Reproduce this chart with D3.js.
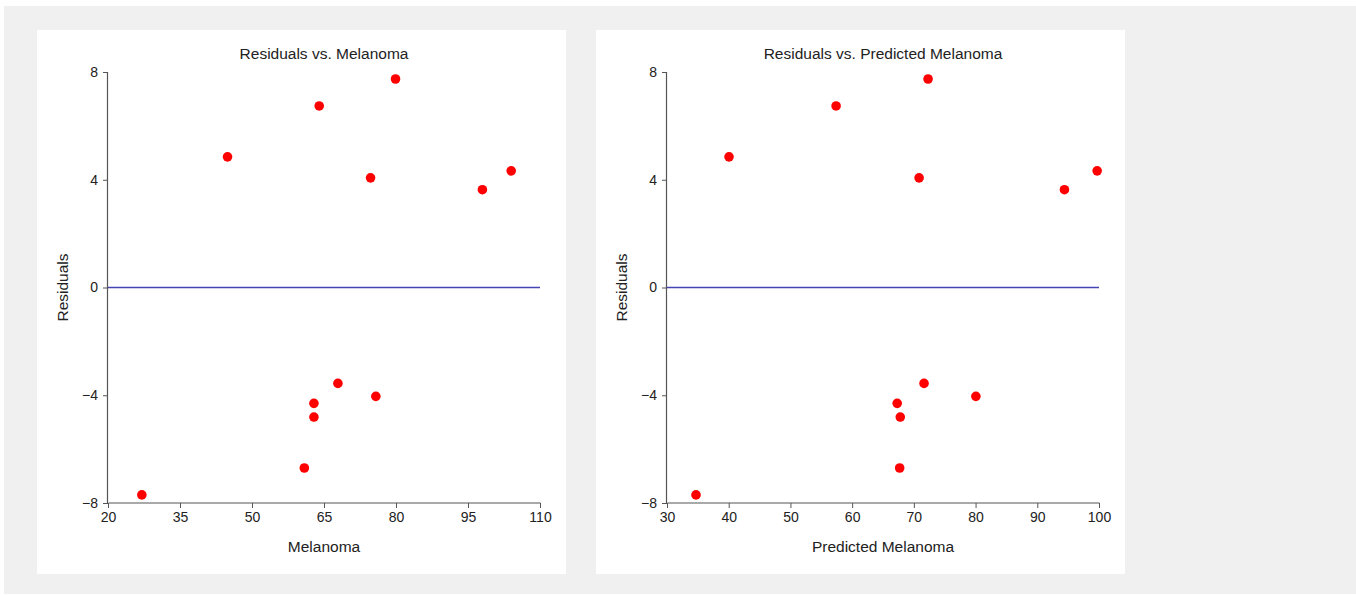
<!DOCTYPE html>
<html>
<head>
<meta charset="utf-8">
<script src="https://cdn.jsdelivr.net/npm/d3@7"></script>
<style>
  html, body { margin: 0; padding: 0; background: #fff; }
  svg { display: block; }
  text { font-family: Arial, "Liberation Sans", sans-serif; fill: #222; }
</style>
</head>
<body>
<svg id="chart" width="1356" height="595"></svg>
<script>
// residuals, one per case
const residuals = [-7.70, 4.85, 6.74, 7.74, 4.07, 3.63, 4.33, -3.56, -4.04, -4.30, -4.81, -6.70];
// actual melanoma values
const melanoma = [27.05, 44.9, 64.0, 79.9, 74.7, 98.0, 104.0, 67.9, 75.8, 62.9, 62.9, 60.9];
// predicted melanoma values
const predicted = [34.7, 40.05, 57.4, 72.3, 70.85, 94.4, 99.7, 71.65, 80.05, 67.3, 67.8, 67.7];

const yTicks = [-8, -4, 0, 4, 8];
const xTicksLeft = [20, 35, 50, 65, 80, 95, 110];
const xTicksRight = [30, 40, 50, 60, 70, 80, 90, 100];

const panels = [
  { title: "Residuals vs. Melanoma", xLabel: "Melanoma", xs: melanoma,
    xDomain: [20, 110], xTicks: xTicksLeft, left: 37 },
  { title: "Residuals vs. Predicted Melanoma", xLabel: "Predicted Melanoma", xs: predicted,
    xDomain: [30, 100], xTicks: xTicksRight, left: 596 }
];

const svg = d3.select("#chart");

// page background
svg.append("rect")
  .attr("x", 4).attr("y", 6)
  .attr("width", 1352).attr("height", 588)
  .attr("fill", "#f0f0f0");

panels.forEach(p => {
  var margin = { top: 42, right: 26, bottom: 71, left: 71 },
    panelW = 529, panelH = 544,
    width = panelW - margin.left - margin.right,
    height = panelH - margin.top - margin.bottom;

  svg.append("rect")
    .attr("x", p.left).attr("y", 30)
    .attr("width", panelW).attr("height", panelH)
    .attr("fill", "#fff");

  const g = svg.append("g")
    .attr("transform", "translate(" + (p.left + margin.left) + "," + (30 + margin.top) + ")");

  const x = d3.scaleLinear().domain(p.xDomain).range([0, width]);
  const y = d3.scaleLinear().domain([-8, 8]).range([height, 0]);

  const yAxis = g.append("g")
    .call(d3.axisLeft(y).tickValues(yTicks).tickSize(5).tickPadding(5).tickFormat(d3.format("d")));
  const xAxis = g.append("g")
    .attr("transform", "translate(0," + height + ")")
    .call(d3.axisBottom(x).tickValues(p.xTicks).tickSize(5).tickPadding(4).tickFormat(d3.format("d")));

  [xAxis, yAxis].forEach(a => {
    a.select(".domain").attr("stroke", "#555").attr("stroke-width", 1.2);
    a.selectAll(".tick line").attr("stroke", "#555");
    a.selectAll(".tick text").attr("font-size", "14px").attr("fill", "#222")
      .attr("font-family", "Arial, 'Liberation Sans', sans-serif");
  });
  // keep the axis lines flat, without outer ticks
  xAxis.select(".domain").attr("d", "M0.5,0H" + (width + 0.5));
  yAxis.select(".domain").attr("d", "M-0.5," + height + "V0");

  // zero reference line, drawn after the axes so it sits on top
  g.append("line")
    .attr("x1", 0).attr("x2", width)
    .attr("y1", y(0)).attr("y2", y(0))
    .attr("stroke", "#4444b4")
    .attr("stroke-width", 1.5);

  g.selectAll(".dot")
    .data(p.xs.map((v, i) => ({ x: v, r: residuals[i] })))
    .enter().append("circle")
    .attr("class", "dot")
    .attr("cx", d => x(d.x))
    .attr("cy", d => y(d.r))
    .attr("r", 4.8)
    .attr("fill", "#ff0000");

  g.append("text")
    .attr("x", width / 2).attr("y", -13)
    .attr("font-size", "15.5px")
    .style("text-anchor", "middle")
    .text(p.title);

  g.append("text")
    .attr("x", width / 2).attr("y", height + 49)
    .attr("font-size", "15.5px")
    .style("text-anchor", "middle")
    .text(p.xLabel);

  g.append("text")
    .attr("transform", "translate(-40," + (height / 2) + ") rotate(-90)")
    .attr("font-size", "15.5px")
    .style("text-anchor", "middle")
    .text("Residuals");
});
</script>
</body>
</html>
